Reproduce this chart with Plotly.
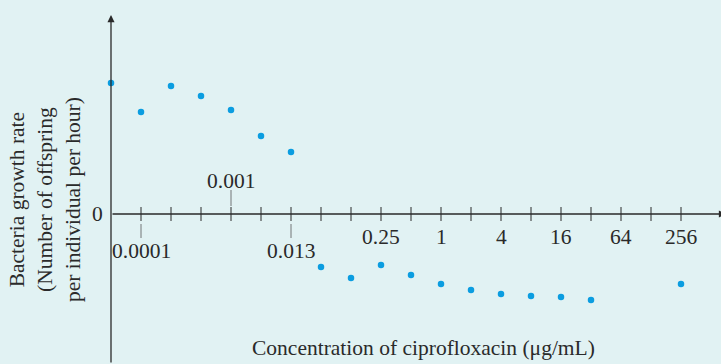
import plotly.graph_objects as go

# positions along the (evenly spaced, log-scale) concentration axis
point_pos = [0, 1, 2, 3, 4, 5, 6, 7, 8, 9, 10, 11, 12, 13, 14, 15, 16, 19]
growth = [131, 102, 128, 118, 104, 78, 62, -53, -64, -51, -61, -70, -76, -80, -82, -83, -86, -70]

tick_pos = list(range(1, 20))
label_text = ["0.0001", "0.001", "0.013", "0.25", "1", "4", "16", "64", "256"]
label_pos = [1, 4, 6, 9, 11, 13, 15, 17, 19]
label_side = ["below_lead", "above_lead", "below_lead", "below", "below", "below", "below", "below", "below"]

BG = "#e1f2f3"
INK = "#2a2a2a"
FONT = "Liberation Serif"
FS = 21.5
PX = 30.0  # pixels per position step
L = 111
W = 610

fig = go.Figure()

# tick marks
fig.add_trace(go.Scatter(
    x=tick_pos, y=[0] * len(tick_pos), mode="markers",
    marker=dict(symbol="line-ns-open", size=10, color=INK, line=dict(width=1, color=INK)),
    hoverinfo="skip", showlegend=False, cliponaxis=False))

# data points
fig.add_trace(go.Scatter(
    x=point_pos, y=growth, mode="markers",
    marker=dict(size=6.5, color="#0b9de0"),
    showlegend=False, cliponaxis=False))

annotations = []
shapes = []
# axes with arrows
annotations.append(dict(x=0, y=199, ax=0, ay=-150, xref="x", yref="y", axref="x", ayref="y",
                        showarrow=True, arrowhead=2, arrowsize=1.1, arrowwidth=1.3,
                        arrowcolor=INK, text=""))
annotations.append(dict(x=20.5, y=0, ax=0, ay=0, xref="x", yref="y", axref="x", ayref="y",
                        showarrow=True, arrowhead=2, arrowsize=1.1, arrowwidth=1.3,
                        arrowcolor=INK, text=""))

font = dict(family=FONT, size=FS, color=INK)
for txt, pos, side in zip(label_text, label_pos, label_side):
    if side == "below_lead":
        shapes.append(dict(type="line", x0=pos, x1=pos, y0=-10, y1=-24, xref="x", yref="y",
                           line=dict(color="#555", width=0.8)))
        annotations.append(dict(x=pos, y=-37, text=txt, showarrow=False, xref="x", yref="y", font=font))
    elif side == "above_lead":
        shapes.append(dict(type="line", x0=pos, x1=pos, y0=8, y1=24, xref="x", yref="y",
                           line=dict(color="#555", width=0.8)))
        annotations.append(dict(x=pos, y=33, text=txt, showarrow=False, xref="x", yref="y", font=font))
    else:
        annotations.append(dict(x=pos, y=-23, text=txt, showarrow=False, xref="x", yref="y", font=font))

annotations.append(dict(x=(97 - L) / W, y=0, text="0", showarrow=False, xref="paper", yref="y",
                        xanchor="center", yanchor="middle", font=font))
annotations.append(dict(x=(423 - L) / W, y=-134, text="Concentration of ciprofloxacin (\u03bcg/mL)",
                        showarrow=False, xref="paper", yref="y", xanchor="center", yanchor="middle", font=font))
annotations.append(dict(x=(45 - L) / W, y=214 - 200, textangle=-90,
                        text="Bacteria growth rate<br>(Number of offspring<br>per individual per hour)",
                        showarrow=False, xref="paper", yref="y", xanchor="center", yanchor="middle",
                        font=font))

fig.update_layout(
    width=721, height=364,
    margin=dict(l=L, r=0, t=0, b=0),
    paper_bgcolor=BG, plot_bgcolor=BG,
    xaxis=dict(range=[0, W / PX], visible=False, fixedrange=True),
    yaxis=dict(range=[-150, 214], visible=False, fixedrange=True),
    annotations=annotations, shapes=shapes,
    showlegend=False,
)

fig.write_html("out.html", config=dict(displayModeBar=False),
               post_script="document.body.style.margin='0';document.body.style.background='%s';" % BG)
